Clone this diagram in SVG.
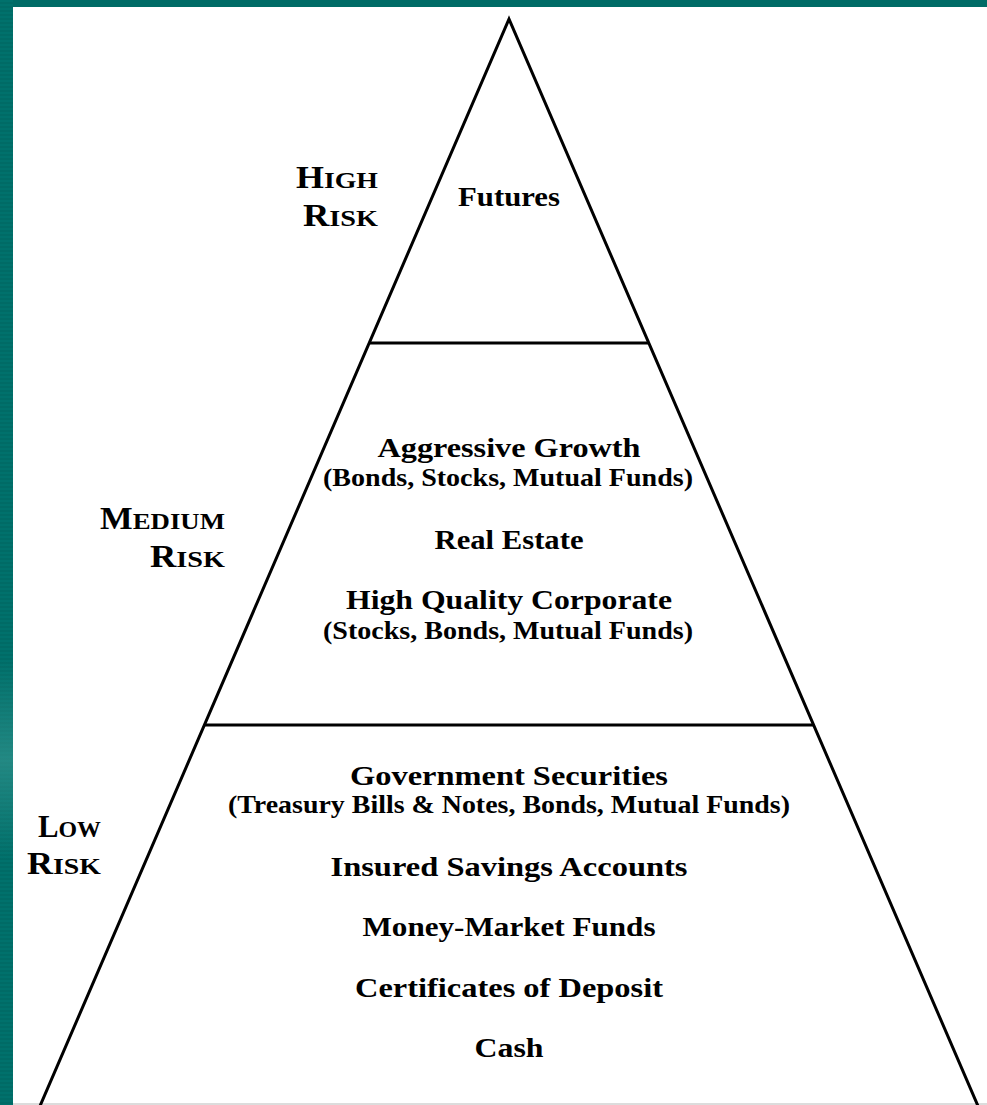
<svg xmlns="http://www.w3.org/2000/svg" width="987" height="1105" viewBox="0 0 987 1105">
<style>
.t{font-family:"Liberation Serif","Times New Roman",serif;font-weight:bold;fill:#000;text-anchor:middle}
.m{font-size:28px}
.s{font-size:25px}
.lab{font-family:"Liberation Serif","Times New Roman",serif;font-weight:bold;fill:#000}
.big{font-size:31px}
.sm{font-size:24px}
.ln{stroke:#000;stroke-width:3;fill:none;stroke-linejoin:miter}
</style>
<defs>
<pattern id="stripes" width="4" height="4" patternUnits="userSpaceOnUse">
<rect width="4" height="4" fill="#006b66"/>
<rect width="4" height="2" fill="#00716c"/>
</pattern>
<linearGradient id="glow" x1="0" y1="0" x2="0" y2="1">
<stop offset="0" stop-color="#3a9a94" stop-opacity="0"/>
<stop offset="0.5" stop-color="#3a9a94" stop-opacity="0.6"/>
<stop offset="1" stop-color="#3a9a94" stop-opacity="0"/>
</linearGradient>
</defs>
<rect width="987" height="1105" fill="#fff"/>
<g id="frame">
<rect x="0" y="0" width="987" height="7" fill="#006b66"/>
<rect x="0" y="0" width="13" height="1105" fill="url(#stripes)"/>
<rect x="0" y="660" width="13" height="200" fill="url(#glow)"/>
<rect x="13" y="1103" width="974" height="2" fill="#dcdcdc"/>
</g>
<g id="connectors">
<polyline class="ln" points="40,1106 509,19 978,1106"/>
<line class="ln" x1="369" y1="343" x2="649" y2="343"/>
<line class="ln" x1="204" y1="725" x2="814" y2="725"/>
</g>
<g id="high-risk-label">
<text class="lab" x="296" y="188" textLength="82" lengthAdjust="spacingAndGlyphs"><tspan class="big">H</tspan><tspan class="sm">IGH</tspan></text>
<text class="lab" x="303" y="226" textLength="75" lengthAdjust="spacingAndGlyphs"><tspan class="big">R</tspan><tspan class="sm">ISK</tspan></text>
</g>
<g id="medium-risk-label">
<text class="lab" x="100" y="529" textLength="125" lengthAdjust="spacingAndGlyphs"><tspan class="big">M</tspan><tspan class="sm">EDIUM</tspan></text>
<text class="lab" x="150" y="567" textLength="75" lengthAdjust="spacingAndGlyphs"><tspan class="big">R</tspan><tspan class="sm">ISK</tspan></text>
</g>
<g id="low-risk-label">
<text class="lab" x="38" y="837" textLength="63" lengthAdjust="spacingAndGlyphs"><tspan class="big">L</tspan><tspan class="sm">OW</tspan></text>
<text class="lab" x="27" y="874" textLength="74" lengthAdjust="spacingAndGlyphs"><tspan class="big">R</tspan><tspan class="sm">ISK</tspan></text>
</g>
<g id="tier-high">
<text class="t m" x="509" y="206" textLength="102" lengthAdjust="spacingAndGlyphs">Futures</text>
</g>
<g id="tier-medium">
<text class="t m" x="509" y="457" textLength="263" lengthAdjust="spacingAndGlyphs">Aggressive Growth</text>
<text class="t s" x="508" y="486" textLength="370" lengthAdjust="spacingAndGlyphs">(Bonds, Stocks, Mutual Funds)</text>
<text class="t m" x="509" y="549" textLength="149" lengthAdjust="spacingAndGlyphs">Real Estate</text>
<text class="t m" x="509" y="609" textLength="326" lengthAdjust="spacingAndGlyphs">High Quality Corporate</text>
<text class="t s" x="508" y="639" textLength="370" lengthAdjust="spacingAndGlyphs">(Stocks, Bonds, Mutual Funds)</text>
</g>
<g id="tier-low">
<text class="t m" x="509" y="785" textLength="318" lengthAdjust="spacingAndGlyphs">Government Securities</text>
<text class="t s" x="509" y="813" textLength="562" lengthAdjust="spacingAndGlyphs">(Treasury Bills &amp; Notes, Bonds, Mutual Funds)</text>
<text class="t m" x="509" y="876" textLength="357" lengthAdjust="spacingAndGlyphs">Insured Savings Accounts</text>
<text class="t m" x="509" y="936" textLength="293" lengthAdjust="spacingAndGlyphs">Money-Market Funds</text>
<text class="t m" x="509" y="997" textLength="308" lengthAdjust="spacingAndGlyphs">Certificates of Deposit</text>
<text class="t m" x="509" y="1057" textLength="69" lengthAdjust="spacingAndGlyphs">Cash</text>
</g>
</svg>
